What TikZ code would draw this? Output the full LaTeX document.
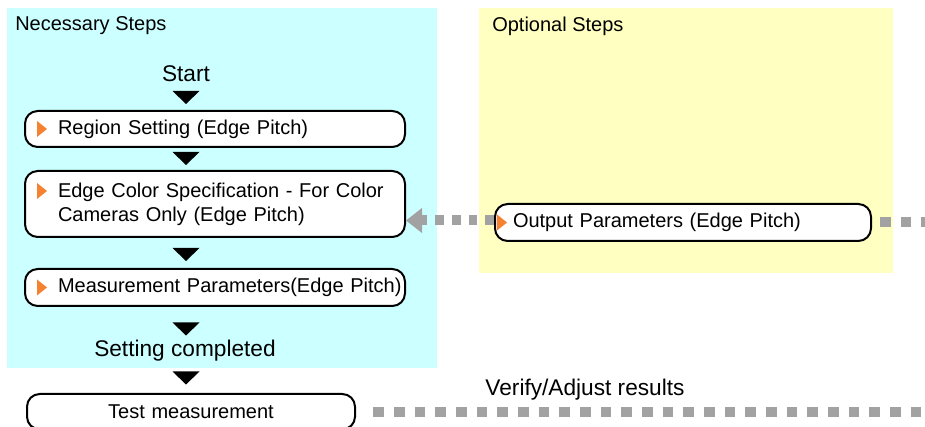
\documentclass[tikz,border=0pt]{standalone}
\usepackage{fontspec}
\setmainfont{Liberation Sans}
\usetikzlibrary{arrows.meta}
\definecolor{necbg}{RGB}{204,255,255}
\definecolor{optbg}{RGB}{255,255,194}
\definecolor{dgray}{RGB}{162,162,162}
\definecolor{tri}{RGB}{245,130,48}
\tikzset{
  stepbox/.style={draw=black, line width=1.5pt, rounded corners=9.5pt, fill=white,
    inner xsep=0pt, inner ysep=2pt, align=left, font=\fontsize{15}{18}\selectfont},
  header/.style={font=\fontsize{15}{18}\selectfont, anchor=west, inner sep=0pt},
  bigtxt/.style={font=\fontsize{17}{20}\selectfont, inner sep=0pt},
  gdash/.style={draw=dgray, line width=7.5pt},
  dtri/.pic={\fill[black] (-13.5,-6.5) -- (13.5,-6.5) -- (0,6.5) -- cycle;},
  otri/.style={fill=tri}
}
\begin{document}
\begin{tikzpicture}[x=0.75pt,y=-0.75pt]
\useasboundingbox (0,0) rectangle (925,427);
% backgrounds
\fill[necbg] (7,8) rectangle (437,368);
\fill[optbg] (479,8) rectangle (893,273);
% headings
\node[header] (nech) at (15,26) {Necessary Steps};
\node[header] (opth) at (492,26) {Optional Steps};
\node[bigtxt] (start) at (186,74) {Start};
\node[bigtxt] (done) at (185,351) {Setting completed};
\node[bigtxt] (verify) at (585,390) {Verify/Adjust results};
% boxes
\node[stepbox, anchor=north west, text width=285pt, minimum height=27pt] (b1) at (24,110)
  {\hspace*{24.75pt}Region Setting (Edge Pitch)};
\node[stepbox, anchor=north west, text width=285pt, minimum height=49.5pt] (b2) at (24,170)
  {\hspace*{24.75pt}Edge Color Specification - For Color\\\hspace*{24.75pt}Cameras Only (Edge Pitch)};
\node[stepbox, anchor=north west, text width=285pt, minimum height=27.75pt] (b3) at (24,268)
  {\hspace*{24.75pt}Measurement Parameters(Edge Pitch)};
\node[stepbox, anchor=north west, text width=246pt, align=center, minimum height=26.5pt] (test) at (26,393)
  {Test measurement};
\node[stepbox, anchor=north west, text width=282pt, minimum height=27.75pt] (out) at (494,203)
  {\hspace*{13.5pt}Output Parameters (Edge Pitch)};
% orange markers
\fill[otri] ([shift={(13,-8)}]b1.west) -- ++(10,8) -- ++(-10,8) -- cycle;
\fill[otri] ([shift={(13,13)}]b2.north west) -- ++(10,8) -- ++(-10,8) -- cycle;
\fill[otri] ([shift={(13,-8)}]b3.west) -- ++(10,8) -- ++(-10,8) -- cycle;
\fill[otri] ([shift={(3,-8)}]out.west) -- ++(10,8) -- ++(-10,8) -- cycle;
% flow triangles
\pic at (186,97.5) {dtri};
\pic at (186,158.5) {dtri};
\pic at (186,254.5) {dtri};
\pic at (186,329) {dtri};
\pic at (186,378) {dtri};
% dashed connectors
\coordinate (rc) at (930,320);
\draw[gdash, dash pattern=on 6.5pt off 6pt,
  -{Triangle[length=12pt,width=18pt,fill=dgray,color=dgray]}]
  ([yshift=1.5]out.west) -- ([yshift=1.5]out.west -| b2.east);
\draw[gdash, dash pattern=on 8pt off 7.5pt, shorten <=6pt, shorten >=8pt]
  (out.east) -| (rc) |- (test.east);
\end{tikzpicture}
\end{document}
